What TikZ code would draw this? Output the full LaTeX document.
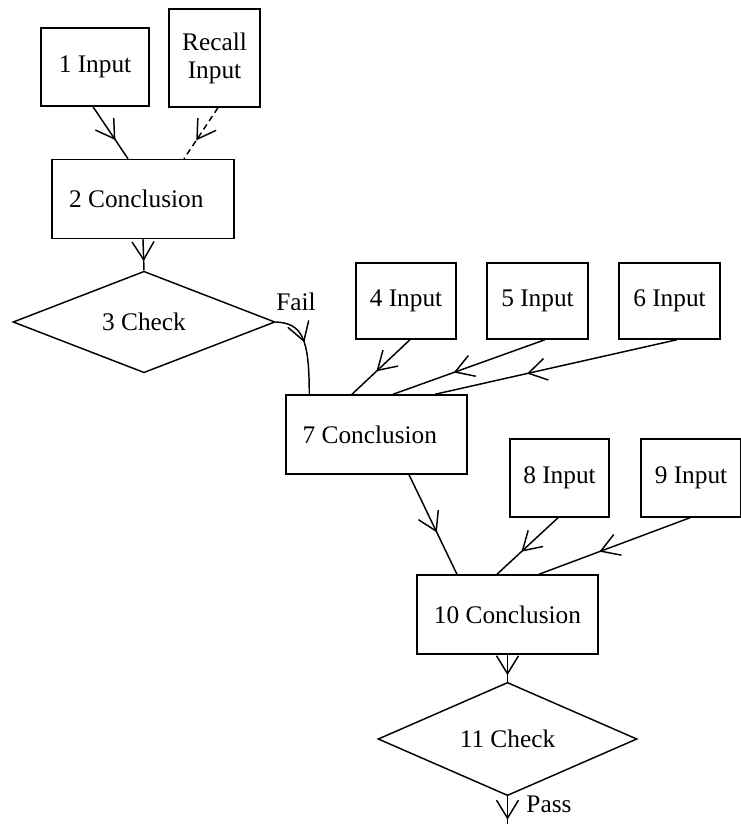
\documentclass[tikz,border=0pt]{standalone}
\usepackage{fontspec}
\setmainfont{Liberation Serif}
\usetikzlibrary{shapes.geometric,arrows.meta,decorations.markings}
\tikzset{
  px/.style={x=0.75pt,y=-0.75pt},
  box/.style={draw,line width=1.1pt,inner sep=0pt,align=center,font=\fontsize{19}{21}\selectfont},
  chk/.style={draw,line width=1.1pt,shape=diamond,inner sep=0pt,font=\fontsize{19}{21}\selectfont},
  lbl/.style={inner sep=0pt,font=\fontsize{19}{21}\selectfont},
  conn/.style={line width=1.1pt},
  dashconn/.style={line width=1.1pt,dash pattern=on 4.5pt off 3pt},
  midarr/.style={postaction={decorate},decoration={markings,mark=at position #1 with {\arrow[line width=1.1pt,solid]{Straight Barb[length=13.5pt,width=16.5pt]}}}}
}
\begin{document}
\begin{tikzpicture}[px]
\useasboundingbox[fill=white] (0,0) rectangle (741,824);
\node[box,minimum width=81pt,minimum height=58.5pt] (in1) at (95,67) {1 Input};
\node[box,minimum width=68.25pt,minimum height=73.5pt] (rec) at (214.5,58) {Recall\\Input};
\node[box,minimum width=136.5pt,minimum height=59.25pt] (c2) at (143,199) {2 Conclusion\hspace*{10pt}};
\node[chk,minimum width=196.5pt,minimum height=69pt] (k3) at (144,322) {3 Check};
\node[box,minimum width=75pt,minimum height=57pt] (in4) at (406,301) {4 Input};
\node[box,minimum width=75.75pt,minimum height=57pt] (in5) at (537.5,301) {5 Input};
\node[box,minimum width=75.75pt,minimum height=57pt] (in6) at (669.5,301) {6 Input};
\node[box,minimum width=135.75pt,minimum height=59.25pt] (c7) at (376.5,434.5) {7 Conclusion\hspace*{10pt}};
\node[box,minimum width=74.25pt,minimum height=58.5pt] (in8) at (559.5,478) {8 Input};
\node[box,minimum width=75pt,minimum height=58.5pt] (in9) at (691,478) {9 Input};
\node[box,minimum width=135.75pt,minimum height=59.25pt] (c10) at (507.5,614.5) {10 Conclusion};
\node[chk,minimum width=194.25pt,minimum height=69pt] (k11) at (507.5,739) {11 Check};
\coordinate (pend) at (507.5,824);
\node[lbl] (fail) at (296,302) {Fail};
\node[lbl] (pass) at (549,804) {Pass};

\draw[conn,midarr=0.64] ([xshift=-1.5pt]in1.south) -- ([xshift=-11.25pt]c2.north);
\draw[dashconn,midarr=0.64] ([xshift=2.6pt]rec.south) -- ([xshift=30.75pt]c2.north);
\draw[conn,midarr=0.7] (c2.south) -- (k3.north);
\draw[conn,midarr=0.42] (k3.east) .. controls +(20pt,-1pt) and +(0,42pt) .. ([xshift=18pt]c7.north west);
\draw[conn,midarr=0.58] ([xshift=3pt]in4.south) -- ([xshift=-18.4pt]c7.north);
\draw[conn,midarr=0.6] ([xshift=5.6pt]in5.south) -- ([xshift=12.4pt]c7.north);
\draw[conn,midarr=0.62] ([xshift=5.6pt]in6.south) -- ([xshift=43.9pt]c7.north);
\draw[conn,midarr=0.58] ([xshift=24.4pt]c7.south) -- ([xshift=-37.9pt]c10.north);
\draw[conn,midarr=0.6] ([xshift=-1.1pt]in8.south) -- ([xshift=-7.9pt]c10.north);
\draw[conn,midarr=0.6] ([xshift=-0.75pt]in9.south) -- ([xshift=23.6pt]c10.north);
\draw[conn,midarr=0.76] (c10.south) -- (k11.north);
\draw[conn,midarr=0.84] (k11.south) -- (pend);
\end{tikzpicture}
\end{document}
